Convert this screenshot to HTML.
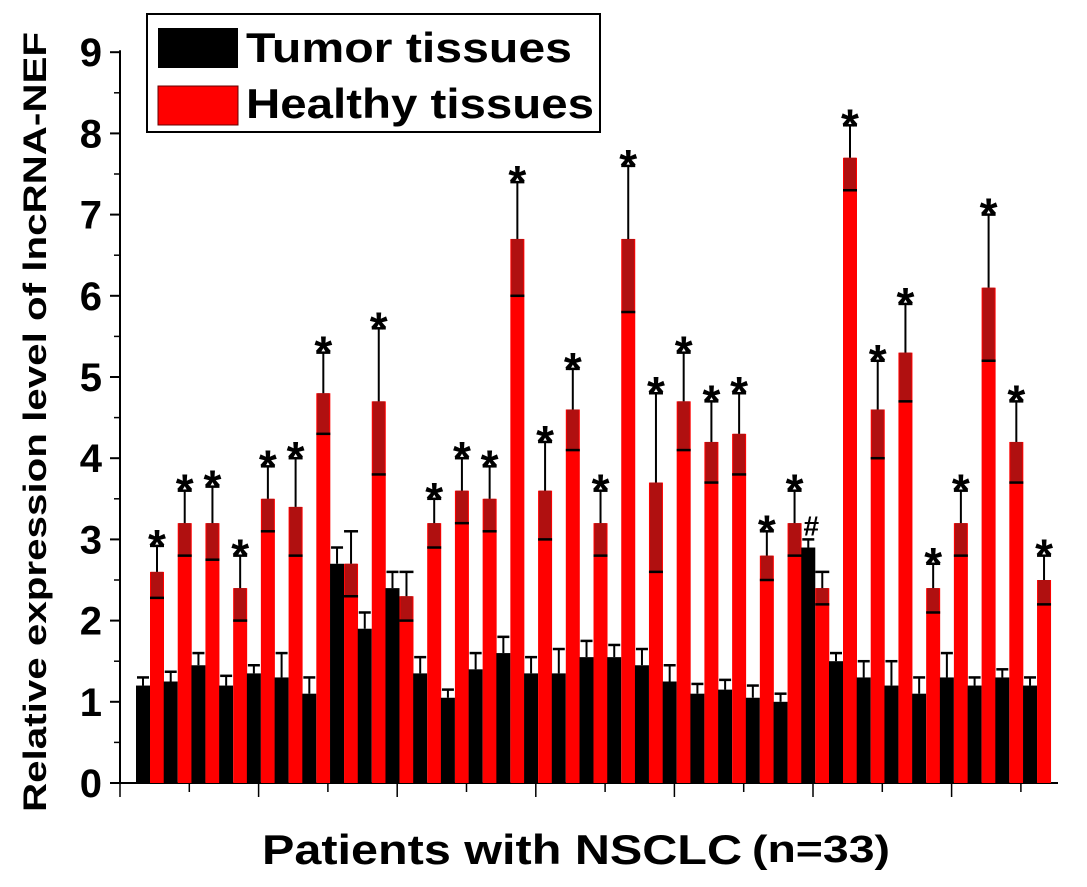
<!DOCTYPE html>
<html><head><meta charset="utf-8"><style>
body{margin:0;background:#fff;}
svg text{font-family:"Liberation Sans",Arial,sans-serif;font-weight:bold;}
</style></head><body>
<svg id="chart" width="1087" height="882" viewBox="0 0 1087 882" xmlns="http://www.w3.org/2000/svg">
<g id="axes"></g><g id="bars"></g><g id="marks"></g>
<g>
<rect x="147" y="14" width="453" height="118" fill="#fff" stroke="#000" stroke-width="2"/>
<rect x="158" y="28" width="80" height="40" fill="#000"/>
<text x="246" y="62" font-size="42" textLength="326" lengthAdjust="spacingAndGlyphs">Tumor tissues</text>
<rect x="158" y="86" width="80" height="39" fill="#f00" stroke="#600" stroke-width="1"/>
<text x="246" y="118" font-size="42" textLength="348" lengthAdjust="spacingAndGlyphs">Healthy tissues</text>
</g>
<text transform="translate(46,422) rotate(-90)" text-anchor="middle" font-size="32" textLength="780" lengthAdjust="spacingAndGlyphs">Relative expression level of lncRNA-NEF</text>
<text x="262" y="864" font-size="42" textLength="480" lengthAdjust="spacingAndGlyphs">Patients with NSCLC</text>
<text x="752" y="862" font-size="38" textLength="138" lengthAdjust="spacingAndGlyphs">(n=33)</text>
</svg>
<script>
const tumor=[1.2,1.25,1.45,1.2,1.35,1.3,1.1,2.7,1.9,2.4,1.35,1.05,1.4,1.6,1.35,1.35,1.55,1.55,1.45,1.25,1.1,1.15,1.05,1.0,2.9,1.5,1.3,1.2,1.1,1.3,1.2,1.3,1.2];
const tumorErr=[0.1,0.12,0.15,0.12,0.1,0.3,0.2,0.2,0.2,0.2,0.2,0.1,0.2,0.2,0.2,0.3,0.2,0.15,0.2,0.2,0.12,0.12,0.15,0.1,0.1,0.1,0.2,0.3,0.2,0.3,0.1,0.1,0.1];
const healthy=[2.6,3.2,3.2,2.4,3.5,3.4,4.8,2.7,4.7,2.3,3.2,3.6,3.5,6.7,3.6,4.6,3.2,6.7,3.7,4.7,4.2,4.3,2.8,3.2,2.4,7.7,4.6,5.3,2.4,3.2,6.1,4.2,2.5];
const healthyErr=[0.32,0.4,0.45,0.4,0.4,0.6,0.5,0.4,0.9,0.3,0.3,0.4,0.4,0.7,0.6,0.5,0.4,0.9,1.1,0.6,0.5,0.5,0.3,0.4,0.2,0.4,0.6,0.6,0.3,0.4,0.9,0.5,0.3];
const marks=["*","*","*","*","*","*","*","","*","","*","*","*","*","*","*","*","*","*","*","*","*","*","*","#","*","*","*","*","*","*","*","*"];
const yTicks=[0,1,2,3,4,5,6,7,8,9];

const NS="http://www.w3.org/2000/svg";
const X0=120,X1=1058,Y0=783,YS=81.2,PITCH=27.72,BW=14,FIRST=136;
const y=v=>Y0-v*YS;
const xg=i=>FIRST+i*PITCH;
function el(tag,attrs,parent){const e=document.createElementNS(NS,tag);for(const k in attrs)e.setAttribute(k,attrs[k]);document.getElementById(parent).appendChild(e);return e;}
let a=el('line',{x1:X0,y1:Y0,x2:X1,y2:Y0,stroke:'#000','stroke-width':2},'axes');


a=el('line',{x1:X0,y1:Y0,x2:X0,y2:y(9)-2,stroke:'#000','stroke-width':2},'axes');


yTicks.forEach(t=>{
  let l=el('line',{x1:X0-10,y1:y(t),x2:X0,y2:y(t),stroke:'#000','stroke-width':2},'axes');
  
  
  if(t<9){let m=el('line',{x1:X0-6,y1:y(t+0.5),x2:X0,y2:y(t+0.5),stroke:'#000','stroke-width':1.5},'axes');
  
  }
  let tx=el('text',{x:X0-18,y:y(t)+14,'text-anchor':'end','font-size':40},'axes');tx.textContent=t;
  
  
});
for(let k=0;X0+k*69.3<=X1;k++){
  let l=el('line',{x1:X0+k*69.3,y1:Y0,x2:X0+k*69.3,y2:Y0+(k%2==0?14:9),stroke:'#000','stroke-width':1.5},'axes');
  
  
}
function errBar(cx,v,e,capW){
  const t=y(v+e),b=y(v-e);
  let l=el('line',{x1:cx,y1:t,x2:cx,y2:y(v),stroke:'#000','stroke-width':2},'bars');
  
  
  [t,b].forEach(yy=>{let c=el('line',{x1:cx-capW,y1:yy,x2:cx+capW,y2:yy,stroke:'#000','stroke-width':2.5},'bars');
  
  });
}
tumor.forEach((v,i)=>{
  const x=xg(i);
  let b=el('rect',{x:x,y:y(v),width:BW,height:v*YS,fill:'#000'},'bars');
  
  
  errBar(x+BW/2,v,tumorErr[i],6);
  const h=healthy[i],he=healthyErr[i];
  let r=el('rect',{x:x+BW,y:y(h),width:BW,height:h*YS,fill:'#f00'},'bars');
  
  
  let d=el('rect',{x:x+BW+1,y:y(h),width:BW-2,height:he*YS,fill:'#b01010'},'bars');
  
  
  errBar(x+BW*1.5,h,he,7);
  if(marks[i]){
    const isHash=marks[i]=='#';
    const mx=isHash?x+BW/2+3:x+BW*1.5;
    const top=isHash?y(v+tumorErr[i]):y(h+he);
    let t=el('text',{x:mx,y:top-(isHash?4:-16),'text-anchor':'middle','font-size':isHash?28:46,'font-weight':'normal'},'marks');
    t.textContent=marks[i];
    
    
  }
});
</script>
</body></html>
